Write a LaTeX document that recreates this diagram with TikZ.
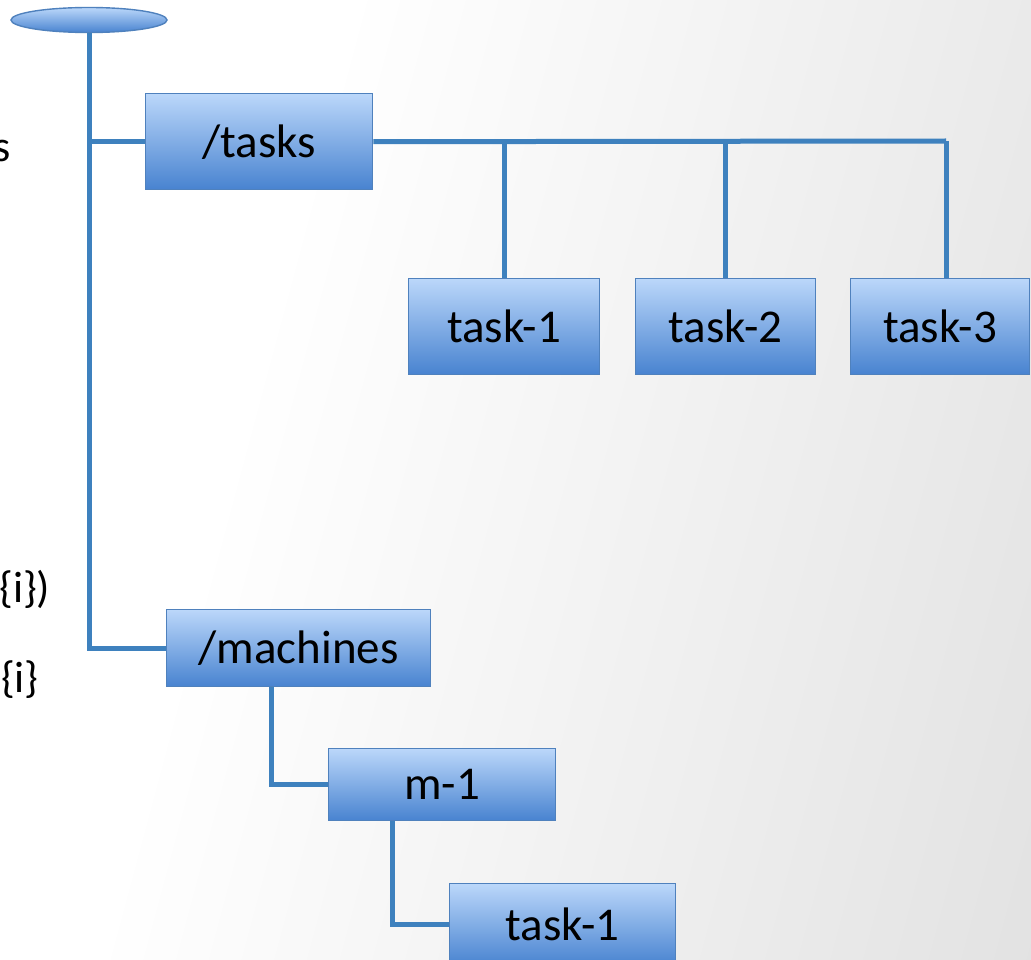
\documentclass[tikz,border=0pt]{standalone}
\usepackage{fontspec}
\setmainfont{Carlito}
\usetikzlibrary{shapes.geometric}

\definecolor{linkblue}{RGB}{62,129,190}
\definecolor{edgeblue}{RGB}{79,129,189}
\definecolor{filltop}{RGB}{187,215,250}
\definecolor{fillbot}{RGB}{72,131,208}
\definecolor{bggray}{RGB}{214,214,214}

\pgfdeclarehorizontalshading{bgshade}{100bp}{color(0bp)=(white); color(36bp)=(white); color(100bp)=(bggray)}

\tikzset{
  treebox/.style={rectangle, draw=edgeblue, line width=1.4pt,
    top color=filltop, bottom color=fillbot, anchor=north west,
    inner sep=0pt, text=black, font=\fontsize{47}{56}\selectfont},
  rootcap/.style={ellipse, draw=edgeblue, line width=1.4pt,
    top color=filltop, bottom color=fillbot, inner sep=0pt},
  link/.style={draw=linkblue, line width=5pt},
  sidetext/.style={inner sep=0pt, text=black,
    font=\fontsize{44}{52}\selectfont}
}

\begin{document}
\begin{tikzpicture}[x=1pt, y=-1pt]
  % page frame and soft grey backdrop
  \useasboundingbox (0,0) rectangle (1031,960);
  \shade[shading=bgshade, shading angle=-15] (0,0) rectangle (1031,960);

  % partly visible notes at the left edge
  \node[sidetext, anchor=base east] (noteA) at (11,162) {s};
  \node[sidetext, anchor=base west] (noteB) at (-1,602) {\{i\})};
  \node[sidetext, anchor=base east] (noteC) at (39,692) {\$\{i\}};

  % root of the tree
  \node[rootcap, minimum width=156pt, minimum height=25pt] (root) at (89,20) {};

  % first level
  \node[treebox, minimum width=227pt, minimum height=96pt] (tasks) at (145,93) {/tasks};
  \node[treebox, minimum width=264pt, minimum height=77pt] (machines) at (166,609) {/machines};

  % children of /tasks
  \node[treebox, minimum width=191pt, minimum height=96pt] (t1) at (408,278) {task-1};
  \node[treebox, minimum width=180pt, minimum height=96pt] (t2) at (635,278) {task-2};
  \node[treebox, minimum width=179pt, minimum height=96pt] (t3) at (850,278) {task-3};

  % machine branch
  \node[treebox, minimum width=227pt, minimum height=72pt] (m1) at (328,748) {m-1};
  \node[treebox, minimum width=226pt, minimum height=82pt] (mt1) at (449,883) {task-1};

  % helper points for the connectors
  \coordinate (busend) at (946,141);
  \coordinate (mdrop) at (271,0);
  \coordinate (tdrop) at (392,0);

  % trunk and first-level branches
  \draw[link] (root.south) |- (machines.west);
  \draw[link] (root.south |- tasks.west) -- (tasks.west);

  % bus from /tasks to its children
  \draw[link] (tasks.east) -- (busend);
  \draw[link] (busend) -- (busend |- t3.north);
  \draw[link] (t1.north |- busend) -- (t1.north);
  \draw[link] (t2.north |- busend) -- (t2.north);

  % /machines -> m-1 -> task-1
  \draw[link] (machines.south -| mdrop) |- (m1.west);
  \draw[link] (m1.south -| tdrop) |- (mt1.west);
\end{tikzpicture}
\end{document}
